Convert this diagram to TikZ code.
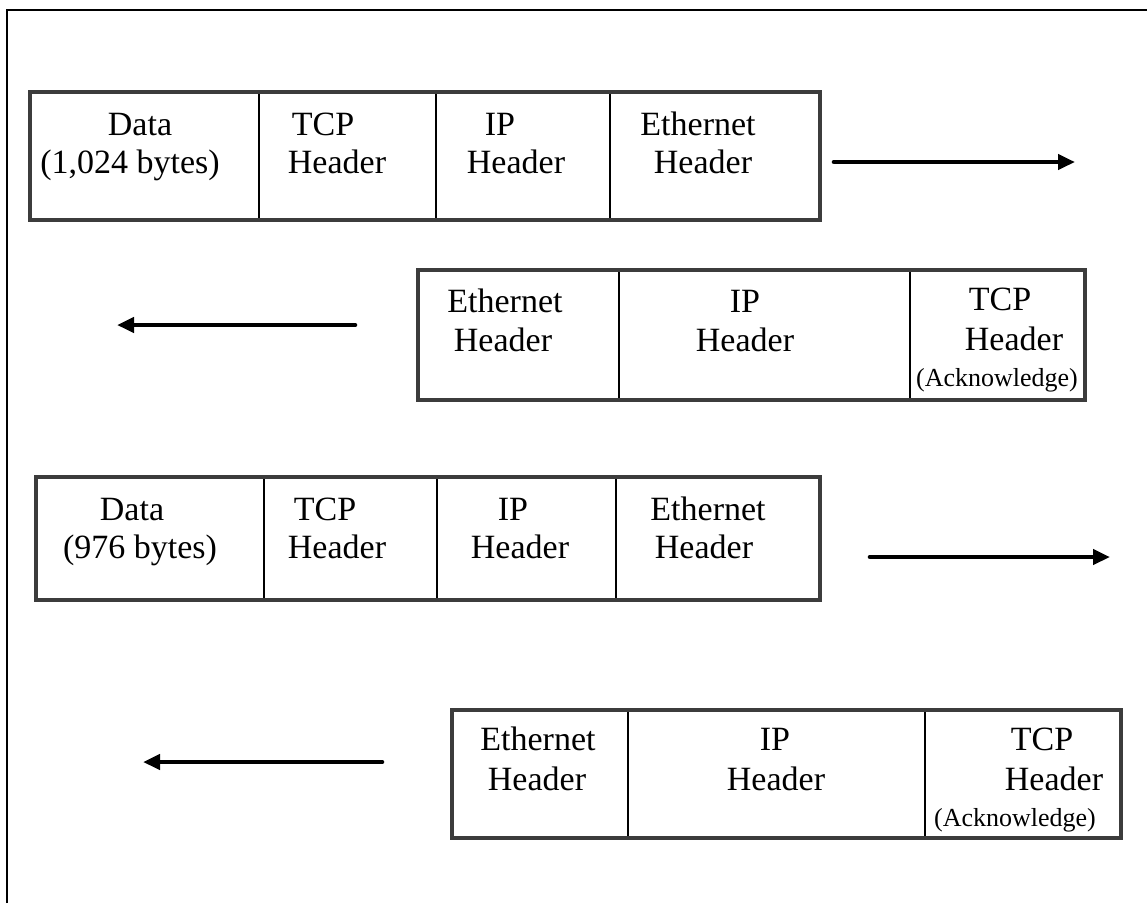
\documentclass[tikz,border=0pt]{standalone}
\usepackage{fontspec}
\setmainfont{Liberation Serif}
\usetikzlibrary{arrows.meta}
\definecolor{framegray}{RGB}{60,60,60}
\begin{document}
\begin{tikzpicture}[x=1pt,y=-1pt,
  boxframe/.style={draw=framegray, line width=3.2pt},
  divider/.style={draw=black, line width=2.2pt},
  lbl/.style={anchor=base, inner sep=0pt, font=\fontsize{34}{38}\selectfont},
  smalllbl/.style={anchor=base, inner sep=0pt, font=\fontsize{26}{30}\selectfont},
  flow/.style={line width=4.6pt, line cap=round, -{Triangle[length=17pt,width=15pt]}},
  outer/.style={draw=black, line width=2.8pt}]
\useasboundingbox (0,0) rectangle (1147,903);
% outer frame (top and left)
\draw[outer] (7,903) -- (7,10) -- (1147,10);

% ---------- Row 1 ----------
\draw[divider] (259,92) -- (259,220);
\draw[divider] (436,92) -- (436,220);
\draw[divider] (610,92) -- (610,220);
\draw[boxframe] (30,92) rectangle (820,220);
\node[lbl] (r1a) at (140,135) {Data};
\node[lbl] (r1b) at (130,173) {(1,024 bytes)};
\node[lbl] (r1c) at (323,135) {TCP};
\node[lbl] (r1d) at (337,173) {Header};
\node[lbl] (r1e) at (500,135) {IP};
\node[lbl] (r1f) at (516,173) {Header};
\node[lbl] (r1g) at (698,135) {Ethernet};
\node[lbl] (r1h) at (703,173) {Header};
\coordinate (a1s) at (834,162);
\coordinate (a1e) at (1075,162);
\draw[flow] (a1s) -- (a1e);

% ---------- Row 2 ----------
\draw[divider] (619,270) -- (619,400);
\draw[divider] (910,270) -- (910,400);
\draw[boxframe] (418,270) rectangle (1085,400);
\node[lbl] (r2a) at (505,312) {Ethernet};
\node[lbl] (r2b) at (503,351) {Header};
\node[lbl] (r2c) at (745,312) {IP};
\node[lbl] (r2d) at (745,351) {Header};
\node[lbl] (r2e) at (1000,310) {TCP};
\node[lbl] (r2f) at (1014,350) {Header};
\node[smalllbl] (r2g) at (997,386) {(Acknowledge)};
\coordinate (a2s) at (355,325);
\coordinate (a2e) at (117,325);
\draw[flow] (a2s) -- (a2e);

% ---------- Row 3 ----------
\draw[divider] (264,477) -- (264,600);
\draw[divider] (437,477) -- (437,600);
\draw[divider] (616,477) -- (616,600);
\draw[boxframe] (36,477) rectangle (820,600);
\node[lbl] (r3a) at (132,520) {Data};
\node[lbl] (r3b) at (140,558) {(976 bytes)};
\node[lbl] (r3c) at (325,520) {TCP};
\node[lbl] (r3d) at (337,558) {Header};
\node[lbl] (r3e) at (513,520) {IP};
\node[lbl] (r3f) at (520,558) {Header};
\node[lbl] (r3g) at (708,520) {Ethernet};
\node[lbl] (r3h) at (704,558) {Header};
\coordinate (a3s) at (870,557);
\coordinate (a3e) at (1110,557);
\draw[flow] (a3s) -- (a3e);

% ---------- Row 4 ----------
\draw[divider] (628,710) -- (628,838);
\draw[divider] (925,710) -- (925,838);
\draw[boxframe] (452,710) rectangle (1121,838);
\node[lbl] (r4a) at (538,750) {Ethernet};
\node[lbl] (r4b) at (537,790) {Header};
\node[lbl] (r4c) at (775,750) {IP};
\node[lbl] (r4d) at (776,790) {Header};
\node[lbl] (r4e) at (1042,750) {TCP};
\node[lbl] (r4f) at (1054,790) {Header};
\node[smalllbl] (r4g) at (1015,826) {(Acknowledge)};
\coordinate (a4s) at (382,762);
\coordinate (a4e) at (143,762);
\draw[flow] (a4s) -- (a4e);
\end{tikzpicture}
\end{document}
